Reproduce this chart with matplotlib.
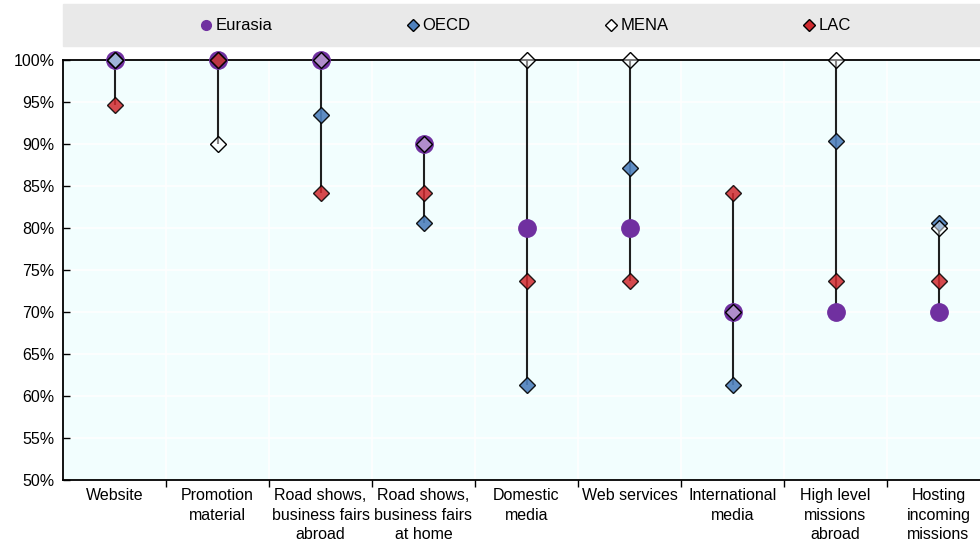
import numpy as np
import matplotlib.pyplot as plt
from matplotlib.lines import Line2D
from matplotlib.patches import Rectangle

plt.rcParams['font.family'] = ['Liberation Sans Narrow', 'Liberation Sans', 'DejaVu Sans']

categories = ["Website", "Promotion\nmaterial", "Road shows,\nbusiness fairs\nabroad",
              "Road shows,\nbusiness fairs\nat home", "Domestic\nmedia", "Web services",
              "International\nmedia", "High level\nmissions\nabroad", "Hosting\nincoming\nmissions"]
eurasia = [100, 100, 100, 90, 80, 80, 70, 70, 70]
oecd = [100, 100, 93.5, 80.6, 61.3, 87.1, 61.3, 90.3, 80.6]
mena = [100, 90, 100, 90, 100, 100, 70, 100, 80]
lac = [94.7, 100, 84.2, 84.2, 73.7, 73.7, 84.2, 73.7, 73.7]

purple = '#7030a0'
blue = '#4f81bd'
red = '#d02a2f'

fig = plt.figure(figsize=(9.8, 5.46), dpi=100)
ax = fig.add_axes([63 / 980, 66 / 546, 927 / 980, 420 / 546])
ax.set_facecolor('#f2fefe')

x = np.arange(len(categories))
allv = np.array([eurasia, oecd, mena, lac])
ax.vlines(x, allv.min(axis=0), allv.max(axis=0), color='#202020', lw=1.5, zorder=2)

ax.plot(x, eurasia, 'o', ms=12.5, color=purple, mec=purple, zorder=3, clip_on=False)
ax.plot(x, oecd, 'D', ms=8, mfc=blue, mec='black', mew=1.0, alpha=0.9, zorder=4, clip_on=False)
ax.plot(x, mena, 'D', ms=8, mfc=(1, 1, 1, 0.45), mec='black', mew=1.0, zorder=5, clip_on=False)
ax.plot(x, lac, 'D', ms=8, mfc=red, mec='black', mew=1.0, alpha=0.85, zorder=6, clip_on=False)

ax.set_xlim(-0.5, len(categories) - 0.5)
ax.set_ylim(50, 100)
ax.set_yticks(np.arange(50, 101, 5))
ax.set_yticklabels([f'{v}%' for v in range(50, 101, 5)], fontsize=11.5)
ax.set_xticks(x)
ax.set_xticklabels(categories, fontsize=11.5, linespacing=1.35)
ax.set_xticks(np.arange(0.5, len(categories) - 0.5), minor=True)
ax.tick_params(axis='x', which='major', length=0, pad=6)
ax.tick_params(axis='x', which='minor', length=5, direction='out', width=1)
ax.tick_params(axis='y', length=5, direction='in', width=1, pad=6)

ax.grid(True, axis='y', color='white', lw=1.2, zorder=0)
ax.grid(True, axis='x', which='minor', color='white', lw=1.2, zorder=0)
ax.set_axisbelow(True)
for s in ['left', 'bottom', 'top']:
    ax.spines[s].set_linewidth(1.3)
ax.spines['right'].set_visible(False)

# legend band
fig.patches.append(Rectangle((63 / 980, 1 - 46 / 546), 917 / 980, 42 / 546,
                             transform=fig.transFigure, color='#e9e9e9', zorder=0))
handles = [Line2D([], [], ls='', marker='o', ms=7, color=purple),
           Line2D([], [], ls='', marker='D', ms=6, mfc=blue, mec='black'),
           Line2D([], [], ls='', marker='D', ms=6, mfc='white', mec='black'),
           Line2D([], [], ls='', marker='D', ms=6, mfc=red, mec='black')]
fig.legend(handles, ['Eurasia', 'OECD', 'MENA', 'LAC'], ncol=4, frameon=False,
           loc='center', bbox_to_anchor=(0.535, 1 - 26 / 546), fontsize=12,
           handletextpad=0.1, handlelength=1.0, columnspacing=7.9)

fig.savefig('out.png', dpi=100)
